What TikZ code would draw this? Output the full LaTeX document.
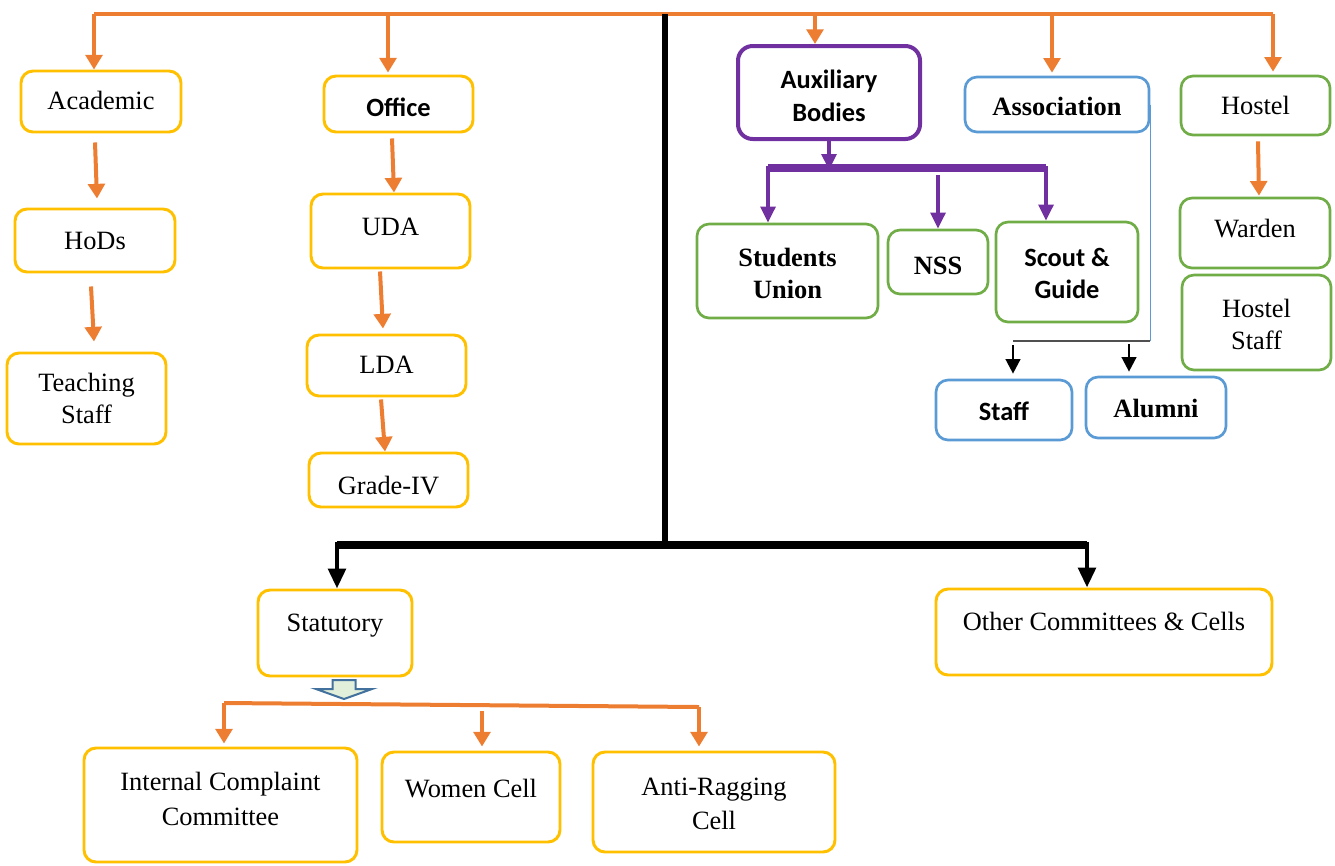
\documentclass[tikz,border=0pt]{standalone}
\usepackage{fontspec}
\setmainfont{Liberation Serif}
\newfontfamily\calfont{Carlito}
\usetikzlibrary{arrows.meta,fit,calc}
\definecolor{corange}{HTML}{ED7D31}
\definecolor{cyellow}{HTML}{FFC000}
\definecolor{cpurple}{HTML}{7030A0}
\definecolor{cblue}{HTML}{5B9BD5}
\definecolor{cgreen}{HTML}{70AD47}
\definecolor{cgrey}{HTML}{505050}
\definecolor{cdblue}{HTML}{41719C}
\definecolor{clgreen}{HTML}{E2EFDA}
\newcommand\up[2]{\raisebox{#1}[\height][\depth]{#2}}
\begin{document}
\begin{tikzpicture}[x=0.75pt,y=-0.75pt,
  every node/.style={font=\fontsize{19.8}{23.5}\selectfont, align=center},
  box/.style={draw=#1, line width=2.2pt, rounded corners=9pt, inner sep=0pt, fill=white},
  ybox/.style={box=cyellow},
  gbox/.style={box=cgreen, line width=2pt},
  bbox/.style={box=cblue, line width=2pt},
  pbox/.style={box=cpurple, line width=3pt, rounded corners=11pt},
  sansb/.style={font=\fontsize{19.8}{23.5}\selectfont\calfont\bfseries},
  serb/.style={font=\fontsize{19.8}{23.5}\selectfont\bfseries},
  oline/.style={draw=corange, line width=3pt},
  oarr/.style={draw=corange, line width=3pt, -{Triangle[width=12.5pt,length=11pt]}},
  parr/.style={draw=cpurple, line width=2.8pt, -{Triangle[width=11pt,length=12pt]}},
  pline/.style={draw=cpurple, line width=5.5pt},
  kline/.style={draw=black, line width=4.5pt},
  kline2/.style={draw=black, line width=6pt},
  karr/.style={draw=black, line width=3.5pt, -{Triangle[width=13pt,length=15pt]}},
  karrs/.style={draw=black, line width=1.8pt, -{Triangle[width=11pt,length=11pt]}},
  bline/.style={draw=cblue, line width=1pt},
  gline/.style={draw=cgrey, line width=1.2pt}
]
\useasboundingbox (0,0) rectangle (1335,865);

% ---------- boxes ----------
\node[ybox, fit={(21,71) (181,132)}] (acad) {\up{-6pt}{Academic}};
\node[ybox, fit={(15,209) (175,272)}] (hods) {\up{-6.75pt}{HoDs}};
\node[ybox, fit={(7,353) (166,444)}] (teach) {\up{-6.75pt}{Teaching}\\\up{-6.75pt}{Staff}};
\node[ybox, sansb, fit={(324,76) (473,132)}] (office) {\up{-9.5pt}{Office}};
\node[ybox, fit={(311,194) (470,268)}] (uda) {\up{-3.75pt}{UDA}};
\node[ybox, fit={(307,335) (466,396)}] (lda) {\up{-6pt}{LDA}};
\node[ybox, fit={(309,453) (468,507)}] (grade) {\up{-11pt}{Grade-IV}};
\node[pbox, sansb, fit={(738,46) (920,139)}] (aux) {\up{-9pt}{Auxiliary}\\\up{-9.75pt}{Bodies}};
\node[bbox, serb, fit={(965,77) (1149,132)}] (assoc) {\up{-8.25pt}{Association}};
\node[gbox, fit={(1181,76) (1330,135)}] (hostel) {\up{-6.75pt}{Hostel}};
\node[gbox, serb, fit={(697,224) (878,318)}] (su) {\up{-8.6pt}{Students}\\\up{-8.6pt}{Union}};
\node[gbox, serb, fit={(888,230) (988,294)}] (nss) {\up{-9.5pt}{NSS}};
\node[gbox, sansb, fit={(996,222) (1138,322)}] (scout) {\up{-7.5pt}{Scout \&}\\\up{-8.25pt}{Guide}};
\node[gbox, fit={(1180,198) (1330,268)}] (warden) {\up{-3.75pt}{Warden}};
\node[gbox, fit={(1182,275) (1331,370)}] (hstaff) {\up{-8.25pt}{Hostel}\\\up{-8.25pt}{Staff}};
\node[bbox, sansb, fit={(936,380) (1072,440)}] (staff) {\up{-8.25pt}{Staff}};
\node[bbox, serb, fit={(1086,377) (1226,438)}] (alumni) {\up{-7.5pt}{Alumni}};
\node[ybox, fit={(258,590) (412,676)}] (stat) {\up{-0.75pt}{Statutory}};
\node[ybox, fit={(936,589) (1272,675)}] (other) {\up{0.75pt}{Other Committees \& Cells}};
\node[ybox, fit={(84,748) (357,862)}] (icc) {\up{-0.75pt}{Internal Complaint}\\\up{-3.75pt}{Committee}};
\node[ybox, fit={(382,752) (560,842)}] (women) {\up{-0.75pt}{Women Cell}};
\node[ybox, fit={(593,752) (835,852)}] (anti) {\up{-6.75pt}{Anti-Ragging}\\\up{-9pt}{Cell}};

% ---------- top orange bus ----------
\coordinate (tl) at (94,14);
\coordinate (tr) at (1273,14);
\coordinate (d2) at (388,14);
\coordinate (d3) at (815,14);
\coordinate (d4) at (1052,14);
\draw[oline] (tl) -- (tr);
\draw[oarr] (tl) -- (tl |- acad.north);
\draw[oarr] (d2) -- ($(d2 |- office.north)+(0,-2)$);
\draw[oarr] (d3) -- (d3 |- aux.north);
\draw[oarr] (d4) -- ($(d4 |- assoc.north)+(0,-3)$);
\draw[oarr] (tr) -- ($(tr |- hostel.north)+(0,-3)$);

% ---------- chains ----------
\draw[oarr] ($(acad.south)+(-6,9)$) -- ($(hods.north)+(2,-9)$);
\draw[oarr] ($(hods.south)+(-4,13)$) -- ($(teach.north)+(7.5,-10)$);
\draw[oarr] ($(office.south)+(-6.5,5)$) -- ($(uda.north)+(3.5,0)$);
\draw[oarr] ($(uda.south)+(-10.5,2)$) -- ($(lda.north)+(-3.5,-5)$);
\draw[oarr] ($(lda.south)+(-5.5,2)$) -- ($(grade.north)+(-3.5,0)$);
\draw[oarr] ($(hostel.south)+(2.5,5)$) -- ($(warden.north)+(4,-1)$);

% ---------- black trunk ----------
\coordinate (bt) at (665,14);
\coordinate (bm) at (665,545);
\coordinate (bl) at (337,545);
\coordinate (br) at (1087,545);
\draw[kline] (bt) -- (bm);
\draw[kline2] (bl) -- (br);
\draw[karr] ($(bl)+(0,-3)$) -- (bl |- stat.north);
\draw[karr] ($(br)+(0,-3)$) -- (br |- other.north);

% ---------- auxiliary bodies ----------
\coordinate (pl) at (768,168);
\coordinate (pr) at (1046,168);
\coordinate (pn) at (938,175);
\draw[pline] (pl) -- (pr);
\draw[parr] (aux.south) -- ($(aux.south |- pl)+(0,2)$);
\draw[parr] ($(pl)+(0,-2)$) -- (pl |- su.north);
\draw[parr] (pn) -- (pn |- nss.north);
\draw[parr] ($(pr)+(0,-2)$) -- (pr |- scout.north);

% ---------- association ----------
\coordinate (aj) at (1148,341);
\coordinate (aj2) at (1013,341);
\coordinate (aj3) at (1129,341);
\draw[bline] (assoc.east) -- (assoc.east |- aj);
\draw[gline] (assoc.east |- aj) -- (aj2);
\draw[karrs] ($(aj2)+(0,4)$) -- ($(aj2 |- staff.north)+(0,-5)$);
\draw[karrs] ($(aj3)+(0,3)$) -- ($(aj3 |- alumni.north)+(0,-4)$);

% ---------- statutory ----------
\draw[draw=cdblue, fill=clgreen, line width=1.5pt, line join=miter]
  (332.5,680) -- (355.5,680) -- (355.5,689) -- (372,689) -- (344,699)
  -- (316,689) -- (332.5,689) -- cycle;
\coordinate (ol) at (224,703);
\coordinate (or) at (699,707);
\coordinate (om) at (482,711);
\draw[oline] (ol) -- (or);
\draw[oarr] (ol) -- ($(ol |- icc.north)+(0,-3)$);
\draw[oarr] (om) -- ($(om |- women.north)+(0,-4)$);
\draw[oarr] (or) -- ($(or |- anti.north)+(0,-4)$);
\end{tikzpicture}
\end{document}
